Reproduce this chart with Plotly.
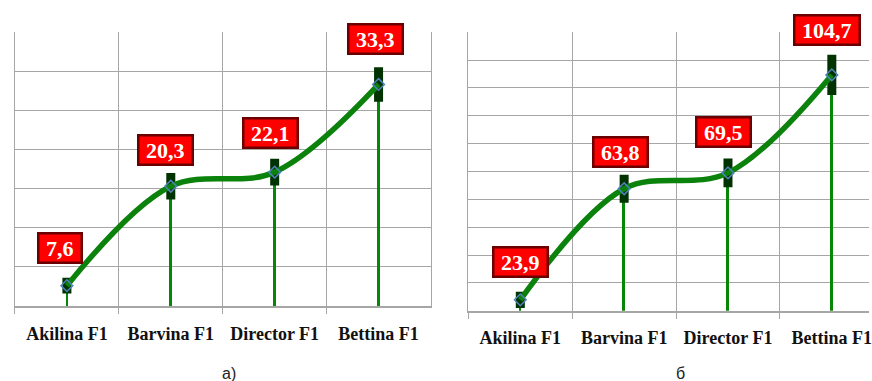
import plotly.graph_objects as go

categories = ["Akilina F1", "Barvina F1", "Director F1", "Bettina F1"]
values_a = [7.6, 20.3, 22.1, 33.3]
values_b = [23.9, 63.8, 69.5, 104.7]
err_a = [1.0, 1.7, 1.7, 2.2]
err_b = [2.9, 5.0, 5.2, 7.2]
captions = ["а)", "б"]

W, H = 872, 381
GRID = "#a6a6a6"
LINE_GREEN = "#0b820b"
DROP_GREEN = "#078507"
DARK = "#003300"
BLUE = "#4f81bd"
SERIF = "Liberation Serif"

panels = [
    dict(vals=values_a, err=err_a, xa="x", ya="y", yr=[5, 40], dt=5,
         xdom=[15 / W, 432 / W], xr=[-0.5, 3.5], ydom=[1 - 306 / H, 1 - 32 / H], mirror=True,
         dx=[-7, -5, -4, -3], dy=[-38, -36, -39, -45], cap_x=230 / W),
    dict(vals=values_b, err=err_b, xa="x2", ya="y2", yr=[20, 120], dt=10,
         xdom=[470 / W, 1.0], xr=[-0.5, 3.358], ydom=[1 - 310.7 / H, 1 - 32.3 / H], mirror=False,
         dx=[0, -4, -4, -5], dy=[-38, -37, -41, -45], cap_x=683 / W),
]

fig = go.Figure()
annotations = []
for i, p in enumerate(panels):
    # drop lines
    fig.add_trace(go.Bar(x=categories, y=p["vals"], width=0.026, marker=dict(color=DROP_GREEN, line=dict(width=0)),
                         xaxis=p["xa"], yaxis=p["ya"], hoverinfo="skip"))
    # dark error markers
    fig.add_trace(go.Scatter(x=categories, y=p["vals"], mode="markers", marker=dict(size=1, color=DARK),
                             error_y=dict(type="data", array=p["err"], thickness=9, width=0, color=DARK),
                             xaxis=p["xa"], yaxis=p["ya"], hoverinfo="skip"))
    # smooth line
    fig.add_trace(go.Scatter(x=categories, y=p["vals"], mode="lines",
                             line=dict(shape="spline", smoothing=1, width=5.5, color=LINE_GREEN),
                             xaxis=p["xa"], yaxis=p["ya"], hoverinfo="skip"))
    # small blue markers
    fig.add_trace(go.Scatter(x=categories, y=p["vals"], mode="markers",
                             marker=dict(symbol="diamond-open", size=9, line=dict(width=1.5, color=BLUE), color=BLUE),
                             xaxis=p["xa"], yaxis=p["ya"], hoverinfo="skip"))
    for j, (c, v) in enumerate(zip(categories, p["vals"])):
        annotations.append(dict(
            x=c, y=v, xref=p["xa"], yref=p["ya"], showarrow=False,
            text="<b> " + f"{v:.1f}".replace(".", ",") + " </b>",
            font=dict(family=SERIF, size=22, color="white"),
            bgcolor="#ff0000", bordercolor="#6b0000", borderwidth=2.5, borderpad=1,
            xshift=p["dx"][j], yshift=-p["dy"][j],
        ))
    annotations.append(dict(x=p["cap_x"], y=1 - 373 / H, xref="paper", yref="paper", showarrow=False,
                            text=captions[i], font=dict(family="Liberation Sans", size=16, color="#222222"),
                            xanchor="center", yanchor="middle"))

    xkey = "xaxis" if i == 0 else "xaxis2"
    ykey = "yaxis" if i == 0 else "yaxis2"
    fig.update_layout(**{
        xkey: dict(domain=p["xdom"], range=p["xr"], type="category", tickson="boundaries",
                   showgrid=True, gridcolor=GRID, gridwidth=1,
                   ticks="outside", ticklen=6, tickcolor=GRID, tickwidth=1,
                   showline=True, linecolor=GRID, linewidth=2,
                   tickfont=dict(family=SERIF, size=18, color="#111111", weight="bold"),
                   ticklabelstandoff=10, anchor=p["ya"], fixedrange=True),
        ykey: dict(domain=p["ydom"], range=p["yr"], dtick=p["dt"], tick0=0, showticklabels=False,
                   showgrid=True, gridcolor=GRID, gridwidth=1, zeroline=False,
                   showline=True, linecolor=GRID, linewidth=1, mirror=p["mirror"],
                   ticks="", anchor=p["xa"], fixedrange=True),
    })

fig.update_layout(width=W, height=H, margin=dict(l=0, r=0, t=0, b=0),
                  plot_bgcolor="white", paper_bgcolor="white", showlegend=False,
                  font=dict(family=SERIF),
                  annotations=annotations, bargap=0)

fig.write_html("out.html")
